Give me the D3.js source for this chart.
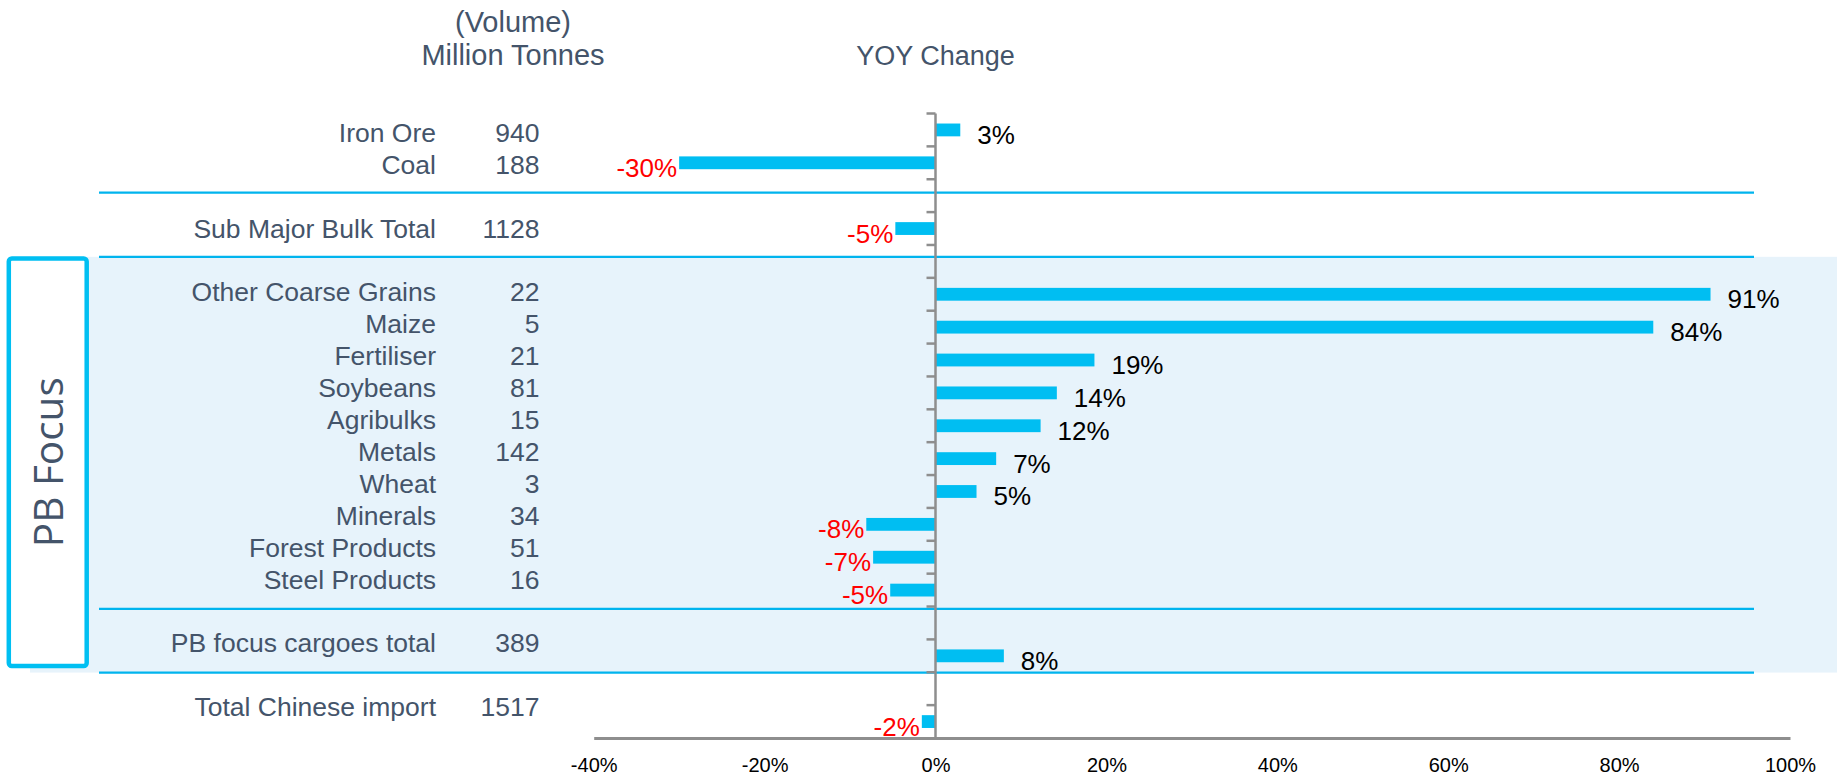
<!DOCTYPE html>
<html><head><meta charset="utf-8">
<script src="https://cdn.jsdelivr.net/npm/d3@7"></script>
<style>
html,body{margin:0;padding:0;background:#fff;}
svg{display:block;}
text{font-family:"Liberation Sans", Arial, sans-serif;}
</style></head><body>
<svg id="chart" width="1837" height="777"></svg>
<script>
// ---------------- DATA ----------------
const categories = ["Iron Ore","Coal","Sub Major Bulk Total","Other Coarse Grains","Maize","Fertiliser","Soybeans","Agribulks","Metals","Wheat","Minerals","Forest Products","Steel Products","PB focus cargoes total","Total Chinese import"];
const volumes = [940,188,1128,22,5,21,81,15,142,3,34,51,16,389,1517];
const yoyChange = [2.9,-30,-4.7,90.7,84,18.6,14.2,12.3,7.1,4.8,-8.1,-7.3,-5.3,8.0,-1.6];
const xTickValues = [-40,-20,0,20,40,60,80,100];
const sectionEnds = ["Coal","Sub Major Bulk Total","Steel Products","PB focus cargoes total"];
const headerVolume = ["(Volume)","Million Tonnes"];
const headerChange = "YOY Change";
const focusLabel = "PB Focus";

// ---------------- LAYOUT / STYLE ----------------
const W = 1837, H = 777;
const C = {bar:"#00BEF2", sep:"#00B4EE", box:"#00BFF2", shade:"#E7F3FB", axis:"#8E8E8E", text:"#44546A", neg:"#FF0000", pos:"#000000"};
const gapOffsets = [0.41, 0.36, 0.07, 0.01];

const rows = [];
categories.forEach((c,i)=>{
  rows.push({key:c, i});
  if (sectionEnds.includes(c)) rows.push({key:"gap"+i, gap:true});
});
const keys = rows.map(r=>r.key);

const plotTop = 113.5, plotBottom = 738;
const x = d3.scaleLinear().domain([-40,100]).range([593.7,1790]);
const yStep = d3.scaleBand().domain(keys).range([plotTop,plotBottom]);
const yBar = d3.scaleBand().domain(keys).range([plotTop,plotBottom]).paddingInner(0.61).paddingOuter(0.305);
const yLabel = d3.scaleLinear().domain([0, keys.length-1]).range([141.9, 141.9 + 31.9*(keys.length-1)]);

const svg = d3.select("#chart");
svg.append("rect").attr("width",W).attr("height",H).attr("fill","#fff");

const gapRows = rows.filter(r=>r.gap);
const sepY = gapRows.map((r,k)=> yStep(r.key) + gapOffsets[k]*yStep.step());

// shaded focus region
svg.append("rect").attr("x",30).attr("y",sepY[1]).attr("width",W-30).attr("height",sepY[3]-sepY[1]).attr("fill",C.shade);

// PB Focus box
const boxTop = sepY[1]+1.6, boxBot = sepY[3]-6.5;
svg.append("rect").attr("x",8.8).attr("y",boxTop).attr("width",77.9).attr("height",boxBot-boxTop)
  .attr("rx",3).attr("fill","#fff").attr("stroke",C.box).attr("stroke-width",4.5);
svg.append("text").text(focusLabel)
  .attr("transform",`translate(63.3,${(boxTop+boxBot)/2}) rotate(-90)`)
  .attr("text-anchor","middle").attr("fill",C.text)
  .style("font-family","'Open Sans', sans-serif").style("font-size","40.5px");

// separators
svg.selectAll("line.sep").data(sepY).join("line").attr("class","sep")
  .attr("x1",99).attr("x2",1754).attr("y1",d=>d).attr("y2",d=>d)
  .attr("stroke",C.sep).attr("stroke-width",2.2);

// bars
const data = categories.map((c,i)=>({cat:c, vol:volumes[i], chg:yoyChange[i], row:keys.indexOf(c)}));
svg.selectAll("rect.bar").data(data).join("rect").attr("class","bar")
  .attr("x",d=>x(Math.min(0,d.chg))).attr("width",d=>Math.abs(x(d.chg)-x(0)))
  .attr("y",d=>yBar(d.cat)).attr("height",yBar.bandwidth()).attr("fill",C.bar);

// vertical axis with ticks at row boundaries
const g0 = x(0);
svg.append("line").attr("x1",g0).attr("x2",g0).attr("y1",plotTop).attr("y2",plotBottom+2)
  .attr("stroke",C.axis).attr("stroke-width",2.5);
const boundaries = keys.map(k=>yStep(k));
svg.selectAll("line.ytick").data(boundaries).join("line").attr("class","ytick")
  .attr("x1",g0-9).attr("x2",g0).attr("y1",d=>d).attr("y2",d=>d)
  .attr("stroke",C.axis).attr("stroke-width",2.5);

// x axis
const xAxis = svg.append("g").attr("transform",`translate(0,${plotBottom})`)
  .call(d3.axisBottom(x).tickValues(xTickValues).tickSize(0).tickSizeOuter(0).tickPadding(19.5).tickFormat(d=>d+"%"));
xAxis.select(".domain").attr("stroke",C.axis).attr("stroke-width",3);
xAxis.selectAll("text").attr("fill","#000").style("font-size","20px").style("font-family","'Liberation Sans', Arial, sans-serif");

// category labels and volumes
svg.selectAll("text.cat").data(data).join("text").attr("class","cat")
  .attr("x",436).attr("y",d=>yLabel(d.row)).attr("text-anchor","end")
  .attr("fill",C.text).style("font-size","26.5px").text(d=>d.cat);
svg.selectAll("text.vol").data(data).join("text").attr("class","vol")
  .attr("x",539.5).attr("y",d=>yLabel(d.row)).attr("text-anchor","end")
  .attr("fill",C.text).style("font-size","26.5px").text(d=>d.vol);

// data labels
svg.selectAll("text.dl").data(data).join("text").attr("class","dl")
  .attr("x",d=> d.chg>=0 ? x(d.chg)+17 : x(d.chg)-2)
  .attr("y",d=> yBar(d.cat)+yBar.bandwidth()/2+14)
  .attr("text-anchor",d=> d.chg>=0 ? "start":"end")
  .attr("fill",d=> d.chg>=0 ? C.pos : C.neg)
  .style("font-size","26px").text(d=>Math.round(d.chg)+"%");

// headers
svg.selectAll("text.hv").data(headerVolume).join("text").attr("class","hv")
  .attr("x",513).attr("y",(d,i)=> i===0 ? 32 : 65).attr("text-anchor","middle")
  .attr("fill",C.text).style("font-size","29px").text(d=>d);
svg.append("text").attr("x",g0).attr("y",65).attr("text-anchor","middle")
  .attr("fill",C.text).style("font-size","27px").text(headerChange);
</script>
</body></html>
